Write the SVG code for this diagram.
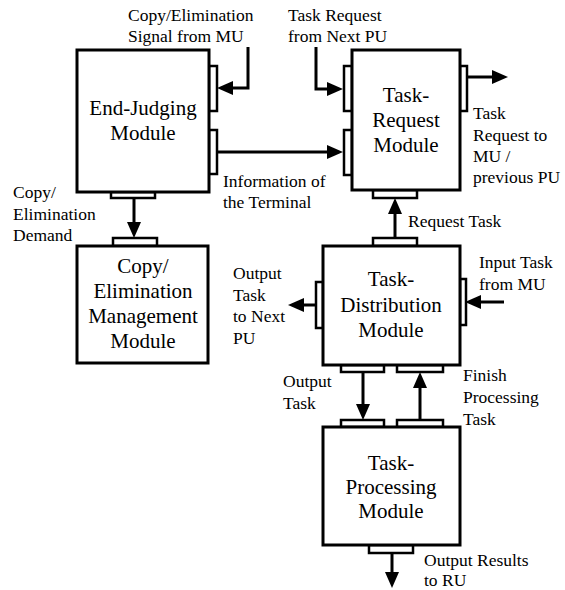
<svg xmlns="http://www.w3.org/2000/svg" width="565" height="590" viewBox="0 0 565 590">
  <style>
    .box { fill: #ffffff; stroke: #000000; stroke-width: 3; }
    .port { fill: #ffffff; stroke: #000000; stroke-width: 2.5; }
    text { font-family: 'Times New Roman', Times, 'Liberation Serif', 'Noto Serif', 'DejaVu Serif', FreeSerif, Tinos, Georgia, serif; fill: #000000; }
    .title { font-size: 21px; text-anchor: middle; }
    .lbl { font-size: 17.5px; }
    .wire { fill: none; stroke: #000000; stroke-width: 3; marker-end: url(#head); }
  </style>
  <defs>
    <marker id="head" viewBox="0 0 16 14" markerWidth="16" markerHeight="14" refX="1" refY="7" orient="auto" markerUnits="userSpaceOnUse">
      <path d="M0,0 L16,7 L0,14 z" fill="#000000"/>
    </marker>
  </defs>

  <rect width="565" height="590" fill="#ffffff"/>

  <!-- connectors -->
  <g id="connectors">
    <path class="wire" d="M248,47 V88 H232"/>
    <path class="wire" d="M316,47 V89 H328"/>
    <path class="wire" d="M217,152 H328"/>
    <path class="wire" d="M467,77 H493"/>
    <path class="wire" d="M395,238 V213"/>
    <path class="wire" d="M134,198 V223"/>
    <path class="wire" d="M316,305 H303"/>
    <path class="wire" d="M504,302 H480"/>
    <path class="wire" d="M363,372 V405"/>
    <path class="wire" d="M420,420 V387"/>
    <path class="wire" d="M392,553 V573"/>
  </g>

  <!-- End-Judging Module -->
  <g id="end-judging">
    <rect class="port" x="209" y="66" width="8" height="45"/>
    <rect class="port" x="209" y="130" width="8" height="44"/>
    <rect class="port" x="111" y="192" width="44" height="6"/>
    <rect class="box" x="77" y="50" width="132" height="142"/>
    <text class="title" x="143" y="115">End-Judging</text>
    <text class="title" x="143" y="140">Module</text>
  </g>

  <!-- Copy/Elimination Management Module -->
  <g id="copy-elimination">
    <rect class="port" x="113" y="238" width="44" height="8"/>
    <rect class="box" x="77" y="246" width="131" height="117"/>
    <text class="title" x="143" y="273">Copy/</text>
    <text class="title" x="143" y="298">Elimination</text>
    <text class="title" x="143" y="323">Management</text>
    <text class="title" x="143" y="348">Module</text>
  </g>

  <!-- Task-Request Module -->
  <g id="task-request">
    <rect class="port" x="344" y="66" width="8" height="45"/>
    <rect class="port" x="344" y="130" width="8" height="45"/>
    <rect class="port" x="460" y="66" width="7" height="45"/>
    <rect class="port" x="373" y="190" width="44" height="8"/>
    <rect class="box" x="352" y="50" width="108" height="140"/>
    <text class="title" x="406" y="102">Task-</text>
    <text class="title" x="406" y="127">Request</text>
    <text class="title" x="406" y="152">Module</text>
  </g>

  <!-- Task-Distribution Module -->
  <g id="task-distribution">
    <rect class="port" x="373" y="238" width="44" height="8"/>
    <rect class="port" x="316" y="282" width="7" height="46"/>
    <rect class="port" x="460" y="279" width="6" height="46"/>
    <rect class="port" x="341" y="365" width="43" height="7"/>
    <rect class="port" x="397" y="365" width="46" height="7"/>
    <rect class="box" x="323" y="246" width="137" height="119"/>
    <text class="title" x="391" y="286">Task-</text>
    <text class="title" x="391" y="312">Distribution</text>
    <text class="title" x="391" y="337">Module</text>
  </g>

  <!-- Task-Processing Module -->
  <g id="task-processing">
    <rect class="port" x="341" y="420" width="43" height="7"/>
    <rect class="port" x="397" y="420" width="46" height="7"/>
    <rect class="port" x="369" y="545" width="44" height="8"/>
    <rect class="box" x="323" y="427" width="137" height="118"/>
    <text class="title" x="391" y="470">Task-</text>
    <text class="title" x="391" y="494">Processing</text>
    <text class="title" x="391" y="518">Module</text>
  </g>

  <!-- signal labels -->
  <g id="labels">
    <text class="lbl" x="128" y="21">Copy/Elimination</text>
    <text class="lbl" x="128" y="42">Signal from MU</text>
    <text class="lbl" x="288" y="21">Task Request</text>
    <text class="lbl" x="288" y="42">from Next PU</text>
    <text class="lbl" x="473" y="119">Task</text>
    <text class="lbl" x="473" y="141">Request to</text>
    <text class="lbl" x="473" y="162">MU /</text>
    <text class="lbl" x="473" y="183">previous PU</text>
    <text class="lbl" x="223" y="187">Information of</text>
    <text class="lbl" x="223" y="208">the Terminal</text>
    <text class="lbl" x="13" y="198">Copy/</text>
    <text class="lbl" x="13" y="220">Elimination</text>
    <text class="lbl" x="13" y="241">Demand</text>
    <text class="lbl" x="408" y="227">Request Task</text>
    <text class="lbl" x="479" y="268">Input Task</text>
    <text class="lbl" x="479" y="290">from MU</text>
    <text class="lbl" x="233" y="279">Output</text>
    <text class="lbl" x="233" y="301">Task</text>
    <text class="lbl" x="233" y="322">to Next</text>
    <text class="lbl" x="233" y="344">PU</text>
    <text class="lbl" x="283" y="387">Output</text>
    <text class="lbl" x="283" y="409">Task</text>
    <text class="lbl" x="463" y="381">Finish</text>
    <text class="lbl" x="463" y="403">Processing</text>
    <text class="lbl" x="463" y="425">Task</text>
    <text class="lbl" x="424" y="566">Output Results</text>
    <text class="lbl" x="424" y="586">to RU</text>
  </g>
</svg>
